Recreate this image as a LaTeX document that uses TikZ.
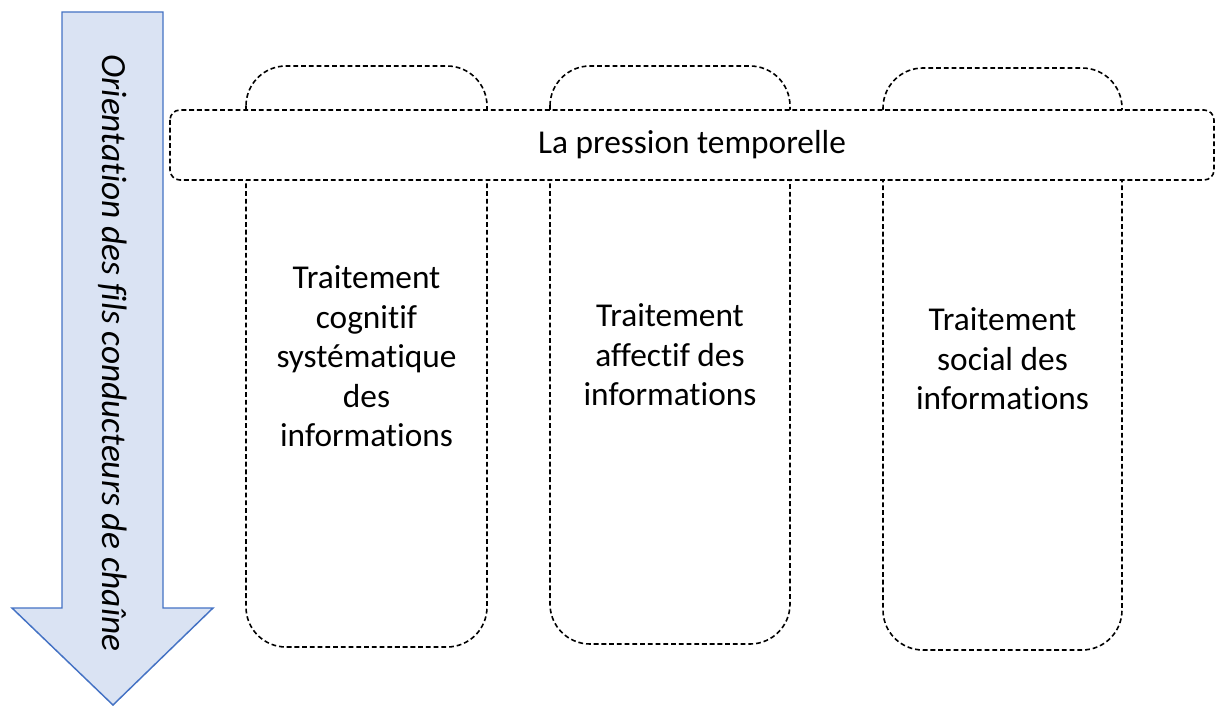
\documentclass[tikz,border=0pt]{standalone}
\usepackage{fontspec}
\setmainfont{Carlito}[Ligatures=CommonOff]
\usetikzlibrary{calc}

\definecolor{flecheFond}{HTML}{DAE3F3}
\definecolor{flecheBord}{HTML}{4472C4}
\tikzset{
    pointille/.style={draw=black, line width=1.2pt, dash pattern=on 3.6pt off 2.2pt, rounded corners=30pt, fill=white},
    fleche/.style={draw=flecheBord, fill=flecheFond, line width=1.1pt},
}

\begin{document}
\begin{tikzpicture}[x=0.75pt, y=-0.75pt, font=\fontsize{25}{29.6}\selectfont]
\useasboundingbox (0,0) rectangle (1216,706);
% Variables: 1 := coin haut gauche, 2 := coin bas droit, 3 := ID, 4 := texte.
\def\traitement(#1)(#2)#3#4{
    \draw[pointille] (#1) coordinate (#3 HG) rectangle (#2) coordinate (#3 BD);
    \node[align=center] (#3) at ($ (#3 HG)!0.5!(#3 BD) $) {#4};
}
\traitement(246,66)(487,647){cognitif}{Traitement\\cognitif\\systématique\\des\\informations}
\traitement(550,66)(790,644){affectif}{Traitement\\affectif des\\informations}
\traitement(883,68)(1122,650){social}{Traitement\\social des\\informations}
\draw[pointille, rounded corners=7.5pt] (170,110) coordinate (PRESSION1) rectangle (1214,180) coordinate (PRESSION2);
\node[] (pression) at ($ (PRESSION1)!0.5!(PRESSION2) $) {La pression temporelle};
\draw[fleche] (62,12) coordinate (FLECHE)
    -- (163,12)
    -- (163,608)
    -- (213,608)
    -- (113,705) coordinate (POINTE)
    -- (12,608)
    -- (62,608)
    -- cycle;
\node[rotate=-90, font=\fontsize{26.5}{30}\selectfont\itshape] (orientation) at (113,353) {Orientation des fils conducteurs de chaîne};
\end{tikzpicture}
\end{document}
